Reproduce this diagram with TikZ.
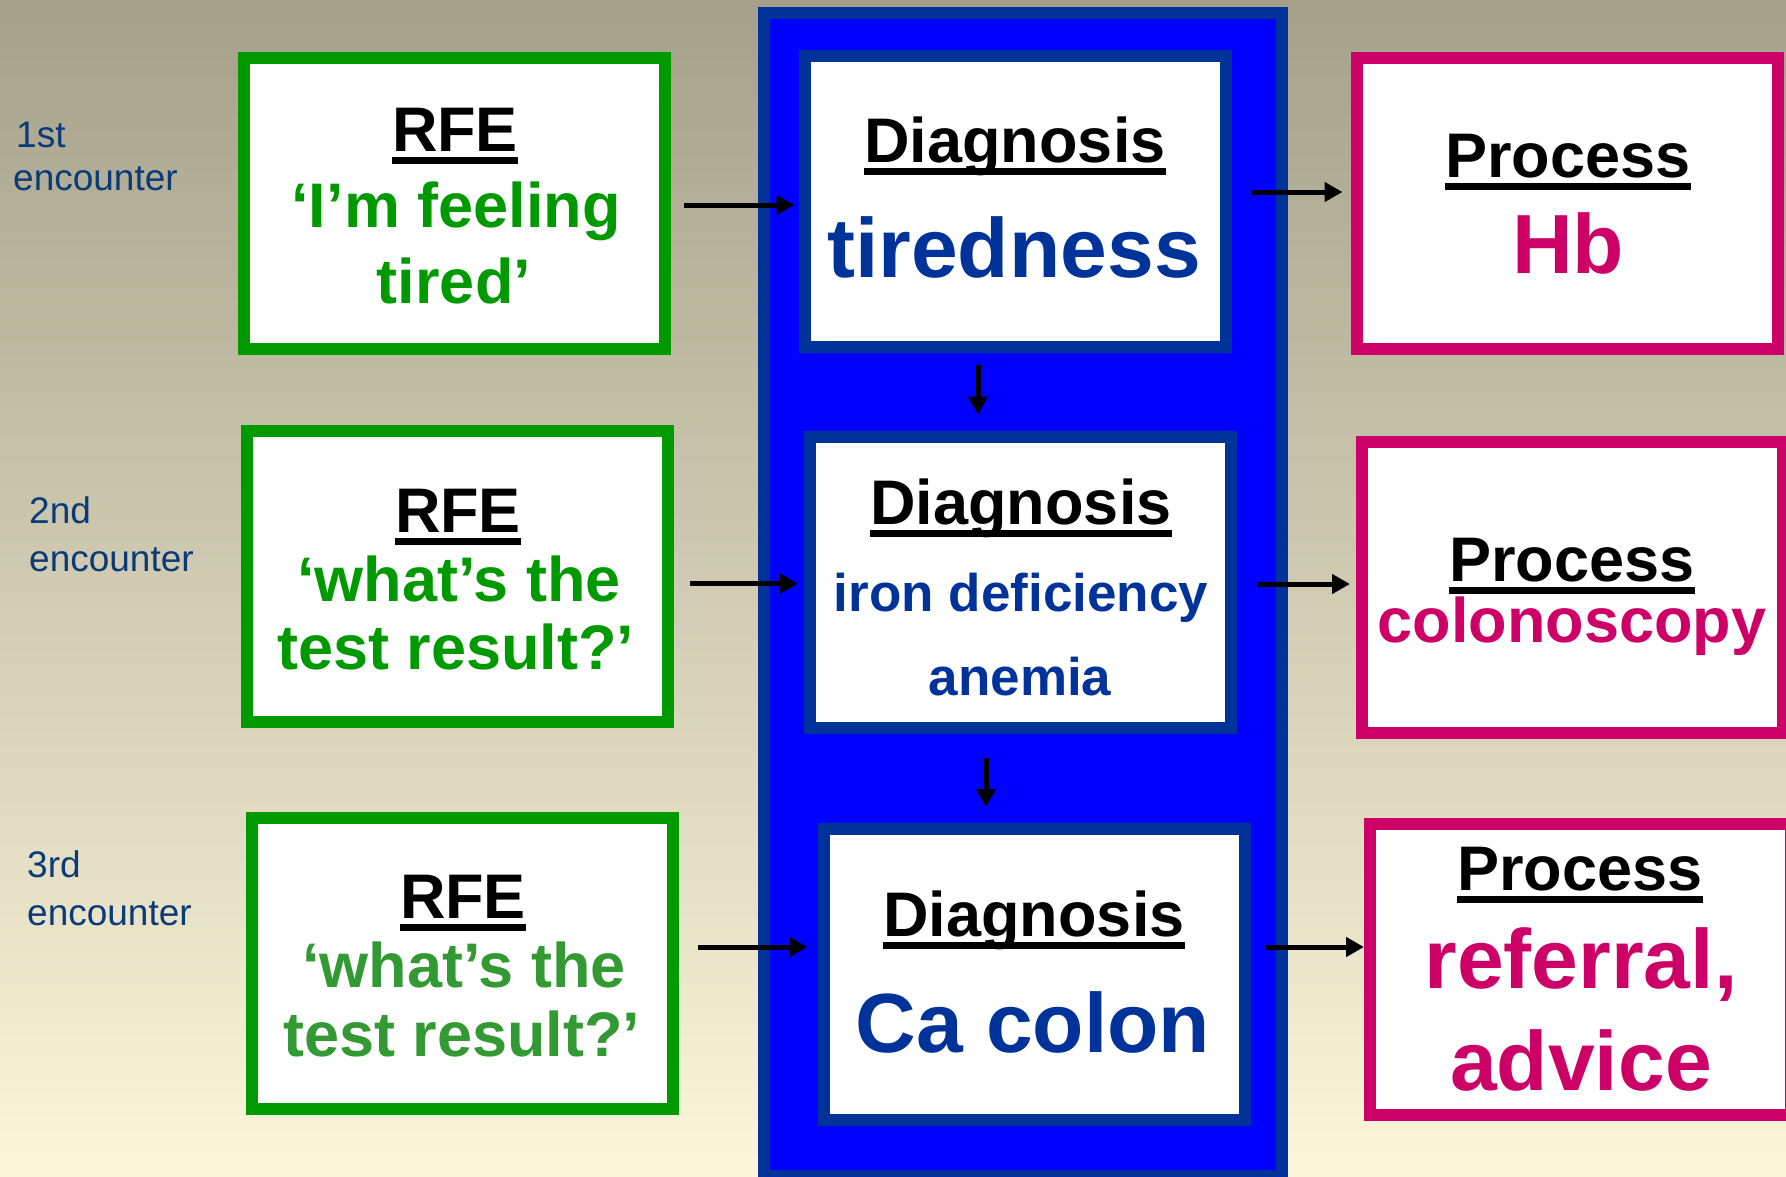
\documentclass[tikz,border=0pt]{standalone}
\usepackage{fontspec}
\setmainfont{Liberation Sans}
\usepackage{xcolor}
\usetikzlibrary{arrows.meta}
\definecolor{rfegreen}{HTML}{009900}
\definecolor{rfegreenb}{HTML}{339933}
\definecolor{diagblue}{HTML}{003399}
\definecolor{panelblue}{HTML}{0000FF}
\definecolor{procpink}{HTML}{CC0066}
\definecolor{enctext}{HTML}{0B3B77}
\definecolor{bgtop}{HTML}{A4A08A}
\definecolor{bgmid}{HTML}{D2CCB2}
\definecolor{bgbot}{HTML}{FCF6DA}
\newcommand{\ulin}[1]{\setbox0=\hbox{#1}\rlap{\rule[-0.2em]{\wd0}{0.1em}}\box0}
\tikzset{rfebox/.style={draw=rfegreen,line width=12pt,fill=white,minimum width=421pt,minimum height=291pt,inner sep=0pt},
  diagbox/.style={rfebox,draw=diagblue},
  procbox/.style={rfebox,draw=procpink},
  head/.style={anchor=base,inner sep=0pt,font=\bfseries\fontsize{63}{63}\selectfont},
  rfetxt/.style={head,text=rfegreen},
  diagtxt/.style={head,text=diagblue,font=\bfseries\fontsize{84}{84}\selectfont},
  diagsmall/.style={head,text=diagblue,font=\bfseries\fontsize{53}{53}\selectfont},
  proctxt/.style={head,text=procpink,font=\bfseries\fontsize{84}{84}\selectfont},
  enc/.style={anchor=base west,inner sep=0pt,text=enctext,font=\fontsize{37}{37}\selectfont},
  arr/.style={line width=5pt}}

\begin{document}
\begin{tikzpicture}[x=1pt,y=-1pt,>={Triangle[length=18pt,width=19pt]}]
    \useasboundingbox (0,0) rectangle (1786,1176);
    \shade[top color=bgtop,middle color=bgmid,bottom color=bgbot] (0,0) rectangle (1786,1176);
    \draw[draw=diagblue,fill=panelblue,line width=12pt] (764,13) rectangle (1282,1176);

    \node[enc] (enc1a) at (16,147) {1st};
    \node[enc] (enc1b) at (13,190) {encounter};
    \node[enc] (enc2a) at (29,523) {2nd};
    \node[enc] (enc2b) at (29,571) {encounter};
    \node[enc] (enc3a) at (27,877) {3rd};
    \node[enc] (enc3b) at (27,925) {encounter};

    \node[rfebox] (rfe1) at (454.5,203.5) {};
    \node[rfebox] (rfe2) at (457.5,576.5) {};
    \node[rfebox] (rfe3) at (462.5,963.5) {};
    \node[diagbox] (diag1) at (1015,201) {};
    \node[diagbox] (diag2) at (1020.5,582) {};
    \node[diagbox] (diag3) at (1034,974.5) {};
    \node[procbox] (proc1) at (1567,203) {};
    \node[procbox] (proc2) at (1572.5,587.5) {};
    \node[procbox] (proc3) at (1580.5,969.5) {};

    \node[head] (rfe1h) at (455,151) {\ulin{RFE}};
    \node[rfetxt] (rfe1a) at (456,227) {‘I’m feeling};
    \node[rfetxt] (rfe1b) at (454,303) {tired’};
    \node[head] (rfe2h) at (458,532) {\ulin{RFE}};
    \node[rfetxt] (rfe2a) at (459,601) {‘what’s the};
    \node[rfetxt] (rfe2b) at (456,669) {test result?’};
    \node[head] (rfe3h) at (463,918) {\ulin{RFE}};
    \node[rfetxt,text=rfegreenb] (rfe3a) at (464,987) {‘what’s the};
    \node[rfetxt,text=rfegreenb] (rfe3b) at (462,1056) {test result?’};

    \node[head] (diag1h) at (1015,162) {\ulin{Diagnosis}};
    \node[diagtxt] (diag1a) at (1014,277) {tiredness};
    \node[head] (diag2h) at (1021,524) {\ulin{Diagnosis}};
    \node[diagsmall] (diag2a) at (1021,611) {iron deficiency};
    \node[diagsmall] (diag2b) at (1020,695) {anemia};
    \node[head] (diag3h) at (1034,936) {\ulin{Diagnosis}};
    \node[diagtxt] (diag3a) at (1033,1052) {Ca colon};

    \node[head] (proc1h) at (1568,177) {\ulin{Process}};
    \node[proctxt] (proc1a) at (1568,273) {Hb};
    \node[head] (proc2h) at (1572,581) {\ulin{Process}};
    \node[proctxt,font=\bfseries\fontsize{63}{63}\selectfont] (proc2a) at (1572,642) {colonoscopy};
    \node[head] (proc3h) at (1580,890) {\ulin{Process}};
    \node[proctxt] (proc3a) at (1581,988) {referral,};
    \node[proctxt] (proc3b) at (1581,1090) {advice};

    \draw[->,arr,shorten <=13pt,shorten >=4pt] ([yshift=-1.5pt]rfe1.east) -- ([yshift=-1.5pt]rfe1.east -| diag1.west);
    \draw[->,arr,shorten <=20pt,shorten >=8pt] ([yshift=9pt]diag1.east) -- ([yshift=9pt]diag1.east -| proc1.west);
    \draw[->,arr,shorten <=16pt,shorten >=6pt] ([yshift=-7pt]rfe2.east) -- ([yshift=-7pt]rfe2.east -| diag2.west);
    \draw[->,arr,shorten <=21pt,shorten >=6pt] ([yshift=-2pt]diag2.east) -- ([yshift=-2pt]diag2.east -| proc2.west);
    \draw[->,arr,shorten <=19pt,shorten >=10pt] ([yshift=16.5pt]rfe3.east) -- ([yshift=16.5pt]rfe3.east -| diag3.west);
    \draw[->,arr,shorten <=15pt] ([yshift=27.5pt]diag3.east) -- ([yshift=27.5pt]diag3.east -| proc3.west);
    \draw[->,arr,shorten <=12pt,shorten >=16pt] ([xshift=-37pt]diag1.south) -- ([xshift=-37pt]diag1.south |- diag2.north);
    \draw[->,arr,shorten <=24pt,shorten >=16pt] ([xshift=-34.5pt]diag2.south) -- ([xshift=-34.5pt]diag2.south |- diag3.north);
\end{tikzpicture}
\end{document}
